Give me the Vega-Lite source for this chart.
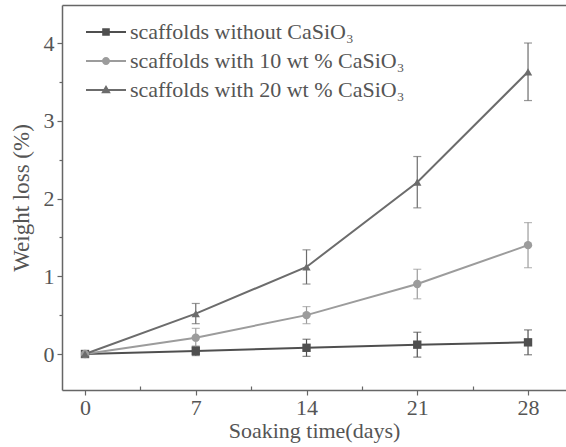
{
  "$schema": "https://vega.github.io/schema/vega-lite/v6.json",
  "width": 504,
  "height": 385,
  "autosize": {"type": "none"},
  "padding": {"left": 62, "top": 5, "right": 0, "bottom": 57},
  "background": "#ffffff",
  "config": {
    "font": "Liberation Serif",
    "view": {"stroke": null, "strokeWidth": 0},
    "axis": {
      "grid": false,
      "domain": false,
      "domainColor": "#666666",
      "domainWidth": 1.5,
      "tickColor": "#666666",
      "tickWidth": 1.2,
      "labelColor": "#555555",
      "titleColor": "#555555",
      "labelFont": "Liberation Serif",
      "titleFont": "Liberation Serif",
      "labelFontSize": 22,
      "titleFontSize": 22,
      "titleFontWeight": "normal"
    },
    "axisRight": {"domain": false, "ticks": false, "labels": false}
  },
  "data": {
    "values": [
      {"series": "scaffolds without CaSiO₃", "day": 0, "value": 0, "err": 0},
      {"series": "scaffolds without CaSiO₃", "day": 7, "value": 0.04, "err": 0.06},
      {"series": "scaffolds without CaSiO₃", "day": 14, "value": 0.08, "err": 0.11},
      {"series": "scaffolds without CaSiO₃", "day": 21, "value": 0.12, "err": 0.16},
      {"series": "scaffolds without CaSiO₃", "day": 28, "value": 0.15, "err": 0.16},
      {"series": "scaffolds with 10 wt % CaSiO₃", "day": 0, "value": 0, "err": 0},
      {"series": "scaffolds with 10 wt % CaSiO₃", "day": 7, "value": 0.21, "err": 0.12},
      {"series": "scaffolds with 10 wt % CaSiO₃", "day": 14, "value": 0.5, "err": 0.11},
      {"series": "scaffolds with 10 wt % CaSiO₃", "day": 21, "value": 0.9, "err": 0.19},
      {"series": "scaffolds with 10 wt % CaSiO₃", "day": 28, "value": 1.4, "err": 0.29},
      {"series": "scaffolds with 20 wt % CaSiO₃", "day": 0, "value": 0, "err": 0},
      {"series": "scaffolds with 20 wt % CaSiO₃", "day": 7, "value": 0.52, "err": 0.13},
      {"series": "scaffolds with 20 wt % CaSiO₃", "day": 14, "value": 1.12, "err": 0.22},
      {"series": "scaffolds with 20 wt % CaSiO₃", "day": 21, "value": 2.21, "err": 0.33},
      {"series": "scaffolds with 20 wt % CaSiO₃", "day": 28, "value": 3.63, "err": 0.37}
    ]
  },
  "layer": [
    {
      "mark": {"type": "errorbar", "ticks": {"size": 8}, "thickness": 1.2},
      "encoding": {
        "x": {"field": "day", "type": "quantitative", "scale": {"domain": [-1.454, 30.40], "nice": false, "zero": false}, "axis": {"orient": "top", "labels": false, "ticks": false, "domain": true, "title": null}},
        "y": {"field": "value", "type": "quantitative", "scale": {"domain": [-0.463, 4.489], "nice": false, "zero": false}, "axis": null},
        "yError": {"field": "err"},
        "color": {
          "field": "series", "type": "nominal",
          "scale": {"domain": ["scaffolds without CaSiO₃", "scaffolds with 10 wt % CaSiO₃", "scaffolds with 20 wt % CaSiO₃"], "range": ["#4f4f4f", "#9c9c9c", "#6c6c6c"]},
          "legend": null
        }
      }
    },
    {
      "mark": {"type": "line", "strokeWidth": 2},
      "encoding": {
        "x": {"field": "day", "type": "quantitative", "axis": {"orient": "bottom", "domain": true, "values": [0, 7, 14, 21, 28], "title": "Soaking time(days)", "tickSize": 5, "labelPadding": 2, "titlePadding": 2, "labelFlush": false}},
        "y": {"field": "value", "type": "quantitative", "axis": {"orient": "left", "domain": true, "values": [0, 1, 2, 3, 4], "format": "d", "title": "Weight loss (%)", "titleFontSize": 23, "tickSize": 5, "labelPadding": 3, "titlePadding": 10}},
        "color": {"field": "series", "type": "nominal", "legend": null}
      }
    },
    {
      "mark": {"type": "point", "filled": true, "opacity": 1, "size": 70},
      "encoding": {
        "x": {"field": "day", "type": "quantitative", "axis": null},
        "y": {"field": "value", "type": "quantitative", "axis": null},
        "color": {"field": "series", "type": "nominal", "legend": null},
        "shape": {
          "field": "series", "type": "nominal",
          "scale": {"domain": ["scaffolds without CaSiO₃", "scaffolds with 10 wt % CaSiO₃", "scaffolds with 20 wt % CaSiO₃"], "range": ["square", "circle", "triangle-up"]},
          "legend": null
        }
      }
    },
    {
      "mark": {"type": "point", "filled": true, "opacity": 0, "size": 400},
      "encoding": {
        "x": {"field": "day", "type": "quantitative", "axis": {"orient": "bottom", "values": [3.5, 10.5, 17.5, 24.5], "tickSize": -4, "labels": false, "domain": false, "title": null}},
        "y": {"field": "value", "type": "quantitative", "axis": {"orient": "left", "values": [0.5, 1.5, 2.5, 3.5], "tickSize": 3, "labels": false, "domain": false, "title": null}},
        "color": {"field": "series", "type": "nominal", "legend": null},
        "shape": {
          "field": "series", "type": "nominal",
          "scale": {"domain": ["scaffolds without CaSiO₃", "scaffolds with 10 wt % CaSiO₃", "scaffolds with 20 wt % CaSiO₃"], "range": ["M-2,-0.09H2V0.09H-2Z M-0.38,-0.38H0.38V0.38H-0.38Z", "M-2,-0.09H2V0.09H-2Z M0.4,0A0.4,0.4 0 1,1 -0.4,0A0.4,0.4 0 1,1 0.4,0Z", "M-2,-0.09H2V0.09H-2Z M0,-0.5L0.48,0.32H-0.48Z"]},
          "legend": {
            "orient": "none", "legendX": 33, "legendY": 16, "title": null, "padding": 0,
            "labelOffset": 13, "rowPadding": 7, "symbolOpacity": 1, "symbolSize": 400, "symbolStrokeWidth": 0,
            "symbolFillColor": {"expr": "datum.value === 'scaffolds without CaSiO₃' ? '#4f4f4f' : datum.value === 'scaffolds with 10 wt % CaSiO₃' ? '#9c9c9c' : '#6c6c6c'"},
            "labelFontSize": 22, "labelColor": "#555555", "labelFont": "Liberation Serif", "labelLimit": 0
          }
        }
      }
    }
  ],
  "resolve": {"scale": {"shape": "independent"}, "axis": {"x": "independent", "y": "independent"}}
}
